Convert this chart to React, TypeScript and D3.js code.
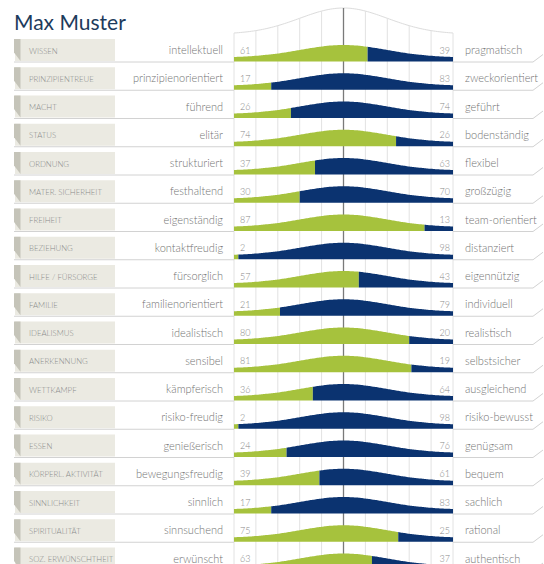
import * as d3 from 'd3';
import React from 'react';

const categories = [
  'WISSEN', 'PRINZIPIENTREUE', 'MACHT', 'STATUS', 'ORDNUNG', 'MATER. SICHERHEIT',
  'FREIHEIT', 'BEZIEHUNG', 'HILFE / FÜRSORGE', 'FAMILIE', 'IDEALISMUS', 'ANERKENNUNG',
  'WETTKAMPF', 'RISIKO', 'ESSEN', 'KÖRPERL. AKTIVITÄT', 'SINNLICHKEIT', 'SPIRITUALITÄT',
  'SOZ. ERWÜNSCHTHEIT',
];
const leftPoles = [
  'intellektuell', 'prinzipienorientiert', 'führend', 'elitär', 'strukturiert', 'festhaltend',
  'eigenständig', 'kontaktfreudig', 'fürsorglich', 'familienorientiert', 'idealistisch', 'sensibel',
  'kämpferisch', 'risiko-freudig', 'genießerisch', 'bewegungsfreudig', 'sinnlich', 'sinnsuchend',
  'erwünscht',
];
const rightPoles = [
  'pragmatisch', 'zweckorientiert', 'geführt', 'bodenständig', 'flexibel', 'großzügig',
  'team-orientiert', 'distanziert', 'eigennützig', 'individuell', 'realistisch', 'selbstsicher',
  'ausgleichend', 'risiko-bewusst', 'genügsam', 'bequem', 'sachlich', 'rational',
  'authentisch',
];
const leftValues = [61, 17, 26, 74, 37, 30, 87, 2, 57, 21, 80, 81, 36, 2, 24, 39, 17, 75, 63];
const rightValues = [39, 83, 74, 26, 63, 70, 13, 98, 43, 79, 20, 19, 64, 98, 76, 61, 83, 25, 37];

const GREEN = '#a6c23d';
const NAVY = '#0b3370';
const TEXT = '#737373';
const FONT = 'Lato, "Open Sans", sans-serif';

// normalised bell: 0 at the edges, 1 in the middle
const g = (t: number) => Math.exp(-((t - 0.5) ** 2) / (2 * 0.2 * 0.2));
const g0 = g(0);
const bell = (t: number) => (g(t) - g0) / (1 - g0);

const App = () => {
  const width = 544, height = 564;

  const x = d3.scaleLinear().domain([0, 100]).range([234, 453]);
  const y = d3.scaleLinear().domain([0, categories.length - 1])
    .range([61.5, 61.5 + (categories.length - 1) * 28.25]);

  const ticks = d3.range(0, 101, 10);
  const samples = d3.range(0, 100.001, 1);

  const arcY = (v: number) => 33 - 25 * bell(v / 100);
  const arcLine = d3.line<number>().x(d => x(d)).y(d => arcY(d)).curve(d3.curveMonotoneX);

  const bellH = (v: number) => 4.5 + 12 * bell(v / 100);

  return (
    <svg width={width} height={height} style={{ position: 'absolute', left: 0, top: 0, background: '#fff' }}
      fontFamily={FONT} fontWeight={300}>
      <text x={14} y={30} fontSize={21} fill="#1d3b5c" fontWeight={400}>Max Muster</text>

      {/* grid */}
      <path d={arcLine(samples) || ''} fill="none" stroke="#dcdcdc" strokeWidth={1} />
      {ticks.map(t => (
        <line key={t} x1={x(t)} x2={x(t)} y1={arcY(t)} y2={height}
          stroke={t === 50 ? '#7a7a7a' : '#e2e2e2'} strokeWidth={t === 50 ? 1.3 : 1} />
      ))}

      {categories.map((c, i) => {
        const base = y(i);
        const split = leftValues[i];
        const area = d3.area<number>()
          .x(d => x(d))
          .y0(base)
          .y1(d => base - bellH(d))
          .curve(d3.curveMonotoneX);
        const leftPts = samples.filter(s => s < split).concat([split]);
        const rightPts = [split].concat(samples.filter(s => s > split));
        return (
          <g key={c}>
            <rect x={15} y={base - 22.5} width={100} height={22} fill="#ebeae2" />
            <polygon points={`14,${base - 22.5} 20.5,${base - 22.5} 20.5,${base - 0.5} 14,${base - 9}`}
              fill="#c5c4b9" />
            <text x={29} y={base - 8} fontSize={7.8} fill="#8a8a8a">{c}</text>
            <line x1={14} x2={234} y1={base + 0.5} y2={base + 0.5} stroke="#d2d2d2" />
            <text x={223} y={base - 7.5} fontSize={11} fill={TEXT} textAnchor="end">{leftPoles[i]}</text>

            <path d={area(leftPts) || ''} fill={GREEN} />
            <path d={area(rightPts) || ''} fill={NAVY} />
            <text x={x(0) + 6} y={base - 8} fontSize={9} fill="#888">{leftValues[i]}</text>
            <text x={x(100) - 3} y={base - 8} fontSize={9} fill="#888" textAnchor="end">{rightValues[i]}</text>

            <text x={465} y={base - 7.5} fontSize={11} fill={TEXT}>{rightPoles[i]}</text>
            <polyline points={`453,${base + 0.5} 533,${base + 0.5} 543,${base - 7}`}
              fill="none" stroke="#d2d2d2" />
          </g>
        );
      })}
    </svg>
  );
};

export default App;
